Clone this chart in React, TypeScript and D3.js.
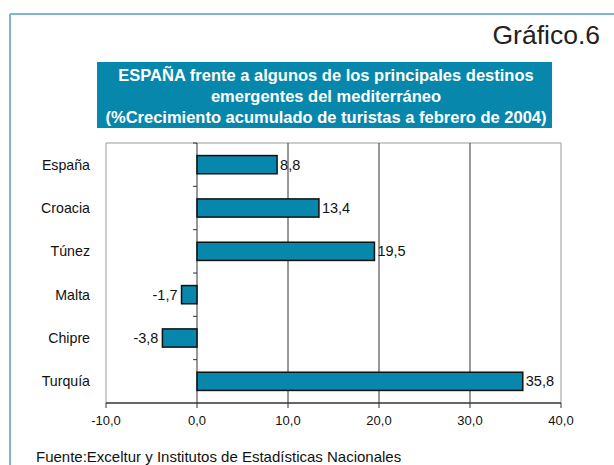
import React from "react";
import * as d3 from "d3";

const categories = ["España", "Croacia", "Túnez", "Malta", "Chipre", "Turquía"];
const values = [8.8, 13.4, 19.5, -1.7, -3.8, 35.8];
const xTicks = [-10, 0, 10, 20, 30, 40];
const titleLines = [
  "ESPAÑA frente a algunos de los principales destinos",
  "emergentes del mediterráneo",
  "(%Crecimiento acumulado de turistas a febrero de 2004)",
];
const chartLabel = "Gráfico.6";
const source = "Fuente:Exceltur y Institutos de Estadísticas Nacionales";

const fmt = (v: number) => v.toFixed(1).replace(".", ",");

export default function App() {
  const W = 614, H = 465;
  const left = 106, right = 561, top = 143, bottom = 403;
  const x = d3.scaleLinear().domain([-10, 40]).range([left, right]);
  const y = d3.scaleBand<string>().domain(categories).range([top, bottom]).paddingInner(0.58).paddingOuter(0.29);
  const font = "'Liberation Sans', Arial, sans-serif";
  const blue = "#0787ab";
  const boundaries = categories.map((_, i) => top + (i * (bottom - top)) / categories.length);
  return (
    <div style={{ position: "absolute", left: 0, top: 0 }}>
      <svg width={W} height={H} style={{ display: "block", fontFamily: font }}>
        <rect x={0} y={0} width={W} height={H} fill="#fff" />
        <line x1={10} y1={14} x2={W} y2={14} stroke="#7db6d3" strokeWidth={2} />
        <line x1={10} y1={14} x2={10} y2={H} stroke="#7db6d3" strokeWidth={2} />
        <text x={600} y={44} textAnchor="end" fontSize={26.5} fill="#222">{chartLabel}</text>
        <rect x={97} y={62} width={455} height={66} fill={blue} />
        {titleLines.map((t, i) => (
          <text key={i} x={326} y={81 + i * 21} textAnchor="middle" fontSize={16.5} fontWeight="bold" fill="#fff">{t}</text>
        ))}
        {/* plot frame */}
        <line x1={left} y1={top} x2={right} y2={top} stroke="#999" strokeWidth={1} />
        <line x1={left} y1={top} x2={left} y2={bottom} stroke="#999" strokeWidth={1} />
        <line x1={right} y1={top} x2={right} y2={bottom} stroke="#999" strokeWidth={1} />
        {xTicks.filter((t) => t > 0 && t < 40).map((t) => (
          <line key={t} x1={x(t)} y1={top} x2={x(t)} y2={bottom} stroke="#333" strokeWidth={1} />
        ))}
        {/* zero axis */}
        <line x1={x(0)} y1={top} x2={x(0)} y2={bottom} stroke="#333" strokeWidth={1} />
        {boundaries.map((b, i) => (
          <line key={i} x1={x(0) - 4} y1={b} x2={x(0)} y2={b} stroke="#333" strokeWidth={1} />
        ))}
        {/* bars */}
        {categories.map((c, i) => {
          const v = values[i];
          const x0 = x(Math.min(0, v));
          const x1 = x(Math.max(0, v));
          const yc = (y(c) as number) + y.bandwidth() / 2;
          return (
            <g key={c}>
              <rect x={x0} y={y(c)} width={x1 - x0} height={y.bandwidth()} fill={blue} stroke="#111" strokeWidth={1.5} />
              <text x={v >= 0 ? x1 + 3 : x0 - 4} y={yc + 5} textAnchor={v >= 0 ? "start" : "end"} fontSize={14.5} fill="#111">{fmt(v)}</text>
              <text x={90} y={yc + 5} textAnchor="end" fontSize={14.2} fill="#111">{c}</text>
            </g>
          );
        })}
        {/* x axis */}
        <line x1={left} y1={bottom} x2={right} y2={bottom} stroke="#333" strokeWidth={1.5} />
        {xTicks.map((t) => (
          <g key={t}>
            <line x1={x(t)} y1={bottom} x2={x(t)} y2={bottom + 5} stroke="#333" strokeWidth={1} />
            <text x={x(t)} y={425} textAnchor="middle" fontSize={13} fill="#111">{fmt(t)}</text>
          </g>
        ))}
        <text x={36} y={462} fontSize={15} fill="#111">{source}</text>
      </svg>
    </div>
  );
}
